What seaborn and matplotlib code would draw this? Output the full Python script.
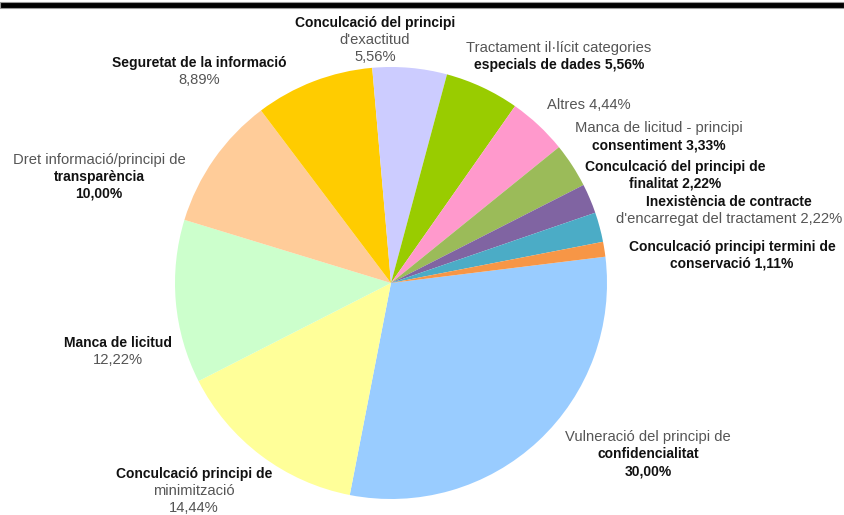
import numpy as np
import pandas as pd
import matplotlib
matplotlib.use("Agg")
import matplotlib.pyplot as plt
import seaborn as sns

# slice data, clockwise from the big blue slice
categories = ["Confidencialitat", "Minimització", "Manca de licitud", "Transparència",
              "Seguretat", "Exactitud", "Categories especials", "Altres",
              "Consentiment", "Finalitat", "Encarregat", "Conservació"]
values = [30.00, 14.44, 12.22, 10.00, 8.89, 5.56, 5.56, 4.44, 3.33, 2.22, 2.22, 1.11]
colors = ["#99CCFF", "#FFFF99", "#CCFFCC", "#FFCC99", "#FFCC00", "#CCCCFF",
          "#99CC00", "#FF99CC", "#9BBB59", "#8064A2", "#4BACC6", "#F79646"]

# label lines: (text, bold)
label_lines = [
    [("Vulneració del principi de", False), ("confidencialitat", True), ("30,00%", True)],
    [("Conculcació principi de", True), ("minimització", False), ("14,44%", False)],
    [("Manca de licitud", True), ("12,22%", False)],
    [("Dret informació/principi de", False), ("transparència", True), ("10,00%", True)],
    [("Seguretat de la informació", True), ("8,89%", False)],
    [("Conculcació del principi", True), ("d'exactitud", False), ("5,56%", False)],
    [("Tractament il·lícit categories", False), ("especials de dades 5,56%", True)],
    [("Altres 4,44%", False)],
    [("Manca de licitud - principi", False), ("consentiment 3,33%", True)],
    [("Conculcació del principi de", True), ("finalitat 2,22%", True)],
    [("Inexistència de contracte", True), ("d'encarregat del tractament 2,22%", False)],
    [("Conculcació principi termini de", True), ("conservació 1,11%", True)],
]
# where each label block sits (pixel centre x, first line y)
label_pos = [(648, 437), (194, 474), (118, 343), (99, 160), (199, 63), (375, 23),
             (559, 48), (589, 105), (659, 128), (675, 167), (729, 202), (732, 247)]

df = pd.DataFrame({"categoria": categories, "valor": values, "color": colors})

W, H = 844, 515
sns.set_theme(style="white")
plt.rcParams['font.family'] = ['Liberation Sans', 'DejaVu Sans']

fig = plt.figure(figsize=(W / 100, H / 100), dpi=100)
cx, cy, r = 391, 283, 216
ax = fig.add_axes([(cx - r) / W, (H - cy - r) / H, 2 * r / W, 2 * r / H])
ax.pie(df["valor"], colors=df["color"], startangle=7, counterclock=False,
       radius=1, wedgeprops=dict(linewidth=0))
ax.set_xlim(-1, 1)
ax.set_ylim(-1, 1)
ax.set_aspect("equal")
ax.axis("off")

# black band at the top
fig.add_artist(plt.Rectangle((0, 1 - 8 / H), 1, 6 / H, transform=fig.transFigure,
                             facecolor="black", edgecolor="#999999", linewidth=0.8))

line_h = 17
for lines, (px, py) in zip(label_lines, label_pos):
    for i, (txt, bold) in enumerate(lines):
        fig.text(px / W, 1 - (py + i * line_h) / H, txt, ha="center", va="center",
                 fontsize=10 if bold else 10.6, fontweight="bold" if bold else "normal",
                 color="#111111" if bold else "#555555")

fig.savefig("out.png", dpi=100)
